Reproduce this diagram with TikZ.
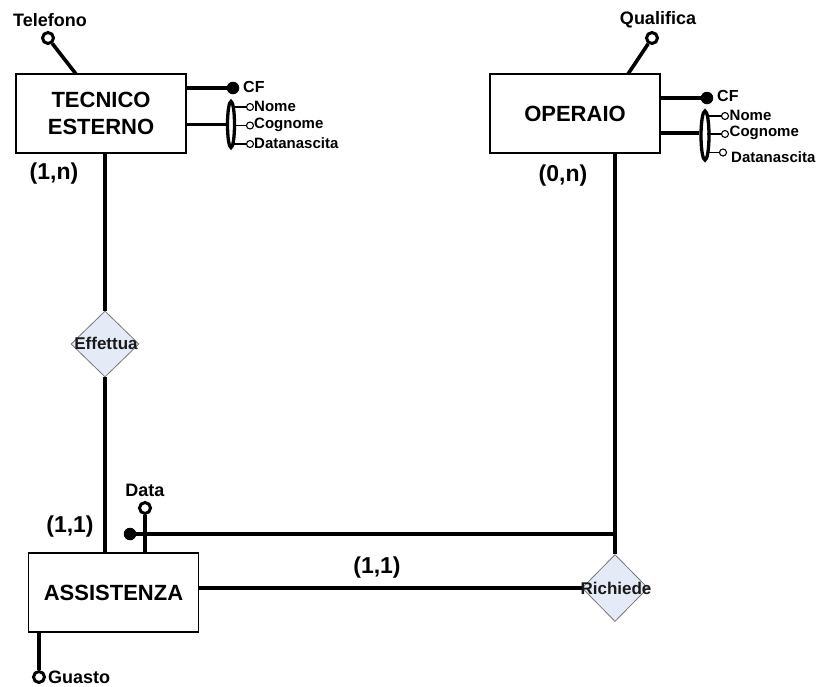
\documentclass[tikz,border=0pt]{standalone}
\usepackage{fontspec}
\setmainfont{Liberation Sans}
\usetikzlibrary{shapes.geometric}
\definecolor{relfill}{RGB}{228,234,246}
\definecolor{relline}{RGB}{120,120,120}
\begin{document}
\begin{tikzpicture}[x=1pt,y=-1pt,
  entity/.style={draw=black, line width=1.5pt, rectangle, minimum width=170pt,
    minimum height=79pt, inner sep=0pt, align=center,
    font=\fontsize{22}{27}\selectfont\bfseries},
  relation/.style={diamond, draw=relline, line width=0.8pt, fill=relfill,
    minimum width=68pt, minimum height=66pt, inner sep=0pt},
  rellabel/.style={font=\fontsize{17}{19}\selectfont\bfseries, text=black!90, inner sep=0pt},
  link/.style={line width=3.6pt},
  attr/.style={circle, draw=black, line width=3pt, minimum size=11pt, inner sep=0pt, fill=white},
  keyattr/.style={circle, fill=black, minimum size=12.5pt, inner sep=0pt},
  small/.style={circle, draw=black, line width=1.1pt, minimum size=7pt, inner sep=0pt, fill=white},
  thinlink/.style={line width=1.3pt},
  group/.style={ellipse, draw=black, line width=3.3pt, minimum width=7pt, minimum height=46pt, inner sep=0pt},
  aname/.style={font=\fontsize{18}{20}\selectfont\bfseries, inner sep=0pt},
  kname/.style={font=\fontsize{16}{18}\selectfont\bfseries, inner sep=0pt, anchor=west},
  sname/.style={font=\fontsize{15}{17}\selectfont\bfseries, inner sep=0pt, anchor=west},
  card/.style={font=\fontsize{23}{25}\selectfont\bfseries, inner sep=0pt}
]
\useasboundingbox[fill=white] (0,0) rectangle (816,686);

% entities
\node[entity] (te) at (101,113.5) {TECNICO\\ESTERNO};
\node[entity] (op) at (575,113.5) {OPERAIO};
\node[entity] (as) at (113.5,592.5) {ASSISTENZA};

% relationships
\node[relation] (eff) at (105,344) {};
\node[rellabel] (effl) at (106,343) {Effettua};
\node[relation, minimum width=66pt, minimum height=67pt] (ric) at (615,588) {};

% TECNICO ESTERNO -- Effettua -- ASSISTENZA
\draw[link] (eff.north |- te.south) -- (eff.north);
\draw[link] (eff.south) -- (eff.south |- as.north);

% OPERAIO -- Richiede -- ASSISTENZA
\draw[link] (ric.north |- op.south) -- (ric.north);
\draw[link] (as.east |- ric.west) -- (ric.west);
\node[rellabel] (ricl) at (616,588) {Richiede};

% external identifier of ASSISTENZA
\node[keyattr] (askey) at (130,534) {};
\coordinate (opline) at (616.8,534);
\draw[link] (askey) -- (opline);

% Data
\node[attr] (data) at (145,508) {};
\coordinate (asdata) at (145,553);
\draw[link] (data) -- (asdata);
\node[aname] (datal) at (145,490) {Data};

% Guasto
\node[attr] (guasto) at (39,677) {};
\coordinate (asguasto) at (39,632);
\draw[link] (asguasto) -- (guasto);
\node[aname, anchor=west] (guastol) at (48,677) {Guasto};

% Telefono
\node[attr] (tel) at (48,38) {};
\coordinate (tetel) at (76,74);
\draw[link] (tel) -- (tetel);
\node[aname] (tell) at (50,20) {Telefono};

% Qualifica
\node[attr] (qual) at (652,38) {};
\coordinate (opqual) at (628,74);
\draw[link] (qual) -- (opqual);
\node[aname] (quall) at (658,20) {Qualifica};

% TECNICO ESTERNO: key and composite attribute
\node[keyattr] (tecf) at (233,88) {};
\draw[link] (te.east |- tecf) -- (tecf);
\node[kname] (tecfl) at (243,87) {CF};
\node[group] (tegrp) at (231,124.5) {};
\draw[link] (te.east |- tegrp) -- (tegrp.west);
\node[small] (ten) at (250,107) {};
\node[small] (tec) at (250,125.5) {};
\node[small] (ted) at (250,144) {};
\draw[thinlink] (tegrp.center |- ten) ++(2,0) -- (ten);
\draw[thinlink] (tegrp.center |- tec) ++(2,0) -- (tec);
\draw[thinlink] (tegrp.center |- ted) ++(2,0) -- (ted);
\node[sname] (tenl) at (254,106) {Nome};
\node[sname] (tecl) at (254,124.5) {Cognome};
\node[sname] (tedl) at (254,143) {Datanascita};

% OPERAIO: key and composite attribute
\node[keyattr] (opcf) at (707,98) {};
\draw[link] (op.east |- opcf) -- (opcf);
\node[kname] (opcfl) at (717,96) {CF};
\node[group, minimum width=8pt, minimum height=49pt] (opgrp) at (705,135.5) {};
\draw[link] (op.east |- 0,133) -- (opgrp.west |- 0,133);
\node[small] (opn) at (725,116) {};
\node[small] (opc) at (725,134) {};
\node[small] (opd) at (723,152.5) {};
\draw[thinlink] (opgrp.center |- opn) ++(2,0) -- (opn);
\draw[thinlink] (opgrp.center |- opc) ++(2,0) -- (opc);
\draw[thinlink] (opgrp.center |- opd) ++(2,0) -- (opd);
\node[sname] (opnl) at (729.5,115) {Nome};
\node[sname] (opcl) at (729.5,133) {Cognome};
\node[sname] (opdl) at (731,157) {Datanascita};

% cardinalities
\node[card] (c1) at (54,174) {(1,n)};
\node[card] (c2) at (563,176) {(0,n)};
\node[card] (c3) at (70,527) {(1,1)};
\node[card] (c4) at (377,568) {(1,1)};
\end{tikzpicture}
\end{document}
